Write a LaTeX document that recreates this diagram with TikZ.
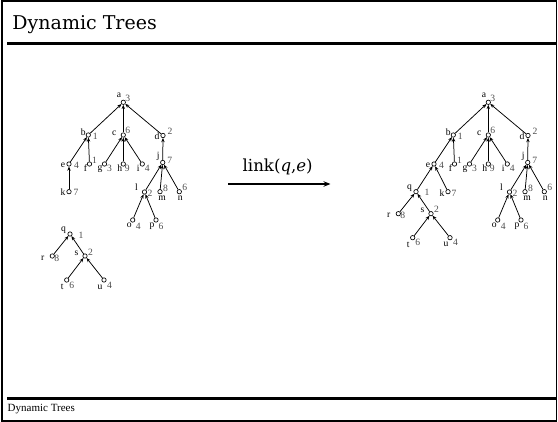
\documentclass[tikz,border=0pt]{standalone}
\usepackage{fontspec}
\setmainfont{Liberation Serif}
\newfontfamily\headfont{DejaVu Serif}
\usetikzlibrary{arrows.meta}

% one vertex: name, position, letter, letter offset, weight, weight offset
\newcommand\tnode[6]{%
  \node[vtx] (#1) at (#2) {};
  \path (#1.center) ++(#4) node[lab] (#1l) {#3};
  \path (#1.center) ++(#6) node[num] (#1n) {#5};
}

% the big tree rooted at a (k is placed separately)
\newcommand\mkmain[1]{%
  \tnode{#1a}{123.3,102.3}{a}{-4.3,-7.3}{3}{4.5,-3.5}
  \tnode{#1b}{88.3,135}{b}{-5,-3}{1}{7,1.5}
  \tnode{#1c}{123.3,135}{c}{-9,-2}{6}{4.5,-4.5}
  \tnode{#1d}{163,135.5}{d}{-6,0.5}{2}{7,-4}
  \tnode{#1e}{69,164}{e}{-6,1}{4}{7.5,1}
  \tnode{#1f}{89.5,164}{f}{-4,4}{1}{5,-3.5}
  \tnode{#1g}{104.5,164}{g}{-4.5,5}{3}{5,4}
  \tnode{#1h}{123.3,164}{h}{-3.5,4.5}{9}{4,4}
  \tnode{#1i}{142.3,164}{i}{-4,4}{4}{5,4}
  \tnode{#1j}{162.7,162.5}{j}{-4.5,-6}{7}{7,-2}
  \tnode{#1l}{144.5,192}{l}{-8,-5}{2}{5.5,1}
  \tnode{#1m}{160,191.7}{m}{2,6.5}{8}{5.5,-3.8}
  \tnode{#1n}{179.3,191.7}{n}{1,6.5}{6}{5.5,-4}
  \tnode{#1o}{132.7,220}{o}{-3.5,5.5}{4}{5.5,6}
  \tnode{#1p}{156,220}{p}{-4,6}{6}{5,6}
  \draw[edge] (#1b) -- (#1a);
  \draw[edge] (#1c) -- (#1a);
  \draw[edge] (#1d) -- (#1a);
  \draw[edge] (#1e) -- (#1b);
  \draw[edge] (#1f) -- (#1b);
  \draw[edge] (#1g) -- (#1c);
  \draw[edge] (#1h) -- (#1c);
  \draw[edge] (#1i) -- (#1c);
  \draw[edge] (#1j) -- (#1d);
  \draw[edge] (#1l) -- (#1j);
  \draw[edge] (#1m) -- (#1j);
  \draw[edge] (#1n) -- (#1j);
  \draw[edge] (#1o) -- (#1l);
  \draw[edge] (#1p) -- (#1l);
}

% the small tree rooted at q
\newcommand\mkqpart[1]{%
  \tnode{#1q}{70,234}{q}{-6.5,-3.5}{1}{11,1}
  \tnode{#1r}{52.3,256}{r}{-9.5,2}{8}{4.5,2}
  \tnode{#1s}{85,256}{s}{-8.5,-3}{2}{5.5,-4}
  \tnode{#1t}{66.7,280}{t}{-4.5,7}{6}{5,5}
  \tnode{#1u}{104,280}{u}{-4,7}{4}{5.5,5}
  \draw[edge] (#1r) -- (#1q);
  \draw[edge] (#1s) -- (#1q);
  \draw[edge] (#1t) -- (#1s);
  \draw[edge] (#1u) -- (#1s);
}

\begin{document}
\begin{tikzpicture}[x=1pt,y=-1pt,
  vtx/.style={circle,draw,line width=0.65pt,inner sep=0pt,minimum size=4.4pt},
  lab/.style={font=\fontsize{9.6}{9.6}\selectfont,inner sep=0pt},
  num/.style={lab,text=black!70},
  edge/.style={line width=0.75pt,-{Stealth[length=4.2pt,width=3.4pt]}},
  rule/.style={line width=2.2pt}]
\useasboundingbox (0,0) rectangle (558,422);

% slide frame, header and footer rules
\draw[line width=1.8pt] (1.6,1) rectangle (556.4,421);
\draw[rule] (7,43.5) -- (557,43.5);
\draw[rule] (7,398.5) -- (557,398.5);
\node[anchor=base west,inner sep=0pt,font=\headfont\fontsize{19}{20}\selectfont] (title) at (12.3,30) {Dynamic Trees};
\node[anchor=base west,inner sep=0pt,font=\fontsize{11}{11}\selectfont] (foot) at (7.5,411.7) {Dynamic Trees};

% before the link
\mkmain{L}
\tnode{Lk}{69,191.7}{k}{-6,0.5}{7}{7,0.5}
\draw[edge] (Lk) -- (Le);
\mkqpart{L}

% the operation
\node[font=\headfont\fontsize{16.6}{18}\selectfont,inner sep=0pt] (op) at (277.7,166.5) {link(\textit{q},\textit{e})};
\coordinate (opstart) at (228.3,184);
\coordinate (opend) at (330.5,184);
\draw[line width=1.6pt,-{Stealth[length=7pt,width=5.5pt]}] (opstart) -- (opend);

% after the link
\begin{scope}[xshift=365pt]
  \mkmain{R}
\end{scope}
\tnode{Rk}{448,191.7}{k}{-6,1.5}{7}{6,1.5}
\draw[edge] (Rk) -- (Re);
\begin{scope}[xshift=346pt,yshift=42.3pt]
  \mkqpart{R}
\end{scope}
\draw[edge] (Rq) -- (Re);
\end{tikzpicture}
\end{document}
